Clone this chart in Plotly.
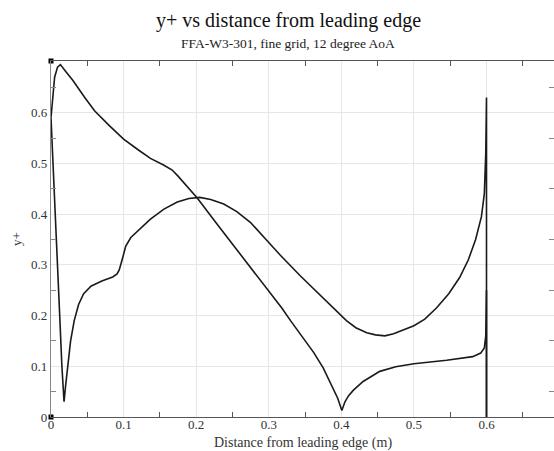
import plotly.graph_objects as go

# Curve 1: surface starting at leading edge, peaking near x=0.012
c1_x = [0.0, 0.002, 0.005, 0.009, 0.013, 0.02, 0.03, 0.046, 0.06, 0.08, 0.1, 0.12, 0.137,
        0.155, 0.167, 0.175, 0.185, 0.2015, 0.23, 0.26, 0.29, 0.318, 0.33, 0.348, 0.362,
        0.375, 0.385, 0.395, 0.4007, 0.405, 0.41, 0.4167, 0.43, 0.453, 0.475, 0.5, 0.545,
        0.581, 0.592, 0.597, 0.599, 0.6, 0.6, 0.6]
c1_y = [0.59, 0.63, 0.67, 0.69, 0.695, 0.682, 0.664, 0.631, 0.604, 0.575, 0.548, 0.527, 0.51,
        0.497, 0.487, 0.475, 0.458, 0.432, 0.378, 0.322, 0.268, 0.215, 0.19, 0.155, 0.127,
        0.097, 0.067, 0.037, 0.013, 0.03, 0.042, 0.053, 0.07, 0.09, 0.099, 0.105, 0.112,
        0.119, 0.126, 0.136, 0.16, 0.25, 0.12, 0.0]

# Curve 2: surface through the stagnation dip near x=0.018
c2_x = [0.0, 0.003, 0.006, 0.009, 0.012, 0.015, 0.018, 0.02, 0.023, 0.027, 0.032, 0.038,
        0.045, 0.055, 0.07, 0.085, 0.091, 0.094, 0.098, 0.103, 0.11, 0.119, 0.137, 0.1556,
        0.174, 0.19, 0.205, 0.22, 0.238, 0.256, 0.2746, 0.295, 0.316, 0.343, 0.371, 0.39,
        0.407, 0.42, 0.435, 0.447, 0.46, 0.472, 0.485, 0.5, 0.515, 0.531, 0.548, 0.563,
        0.575, 0.585, 0.593, 0.597, 0.599, 0.6, 0.6]
c2_y = [0.59, 0.5, 0.4, 0.3, 0.2, 0.1, 0.03, 0.06, 0.1, 0.15, 0.19, 0.222,
        0.243, 0.258, 0.268, 0.276, 0.282, 0.29, 0.31, 0.337, 0.354, 0.366, 0.39, 0.41,
        0.424, 0.431, 0.433, 0.429, 0.42, 0.405, 0.384, 0.352, 0.319, 0.279, 0.24, 0.214,
        0.19, 0.176, 0.166, 0.162, 0.16, 0.164, 0.171, 0.18, 0.193, 0.215, 0.243, 0.275,
        0.31, 0.35, 0.395, 0.44, 0.52, 0.63, 0.0]

# small corner markers
mk_x = [0.0, 0.0]
mk_y = [0.0, 0.702]

y_tickvals = [0, 0.1, 0.2, 0.3, 0.4, 0.5, 0.6]
x_tickvals = [0, 0.1, 0.2, 0.3, 0.4, 0.5, 0.6]

title_text = "y+ vs distance from leading edge"
subtitle_text = "FFA-W3-301, fine grid, 12 degree AoA"
x_title = "Distance from leading edge (m)"
y_title = "y+"

FONT = "Liberation Serif, Times New Roman, serif"
L, R, T, B = 51, 0, 61, 34
W, H = 554, 451
pw = W - L - R
ph = H - T - B


def px2paper(px_x, px_y):
    return (px_x - L) / pw, 1 + (T - px_y) / ph


fig = go.Figure()
fig.add_trace(go.Scatter(x=c1_x, y=c1_y, mode="lines",
                         line=dict(color="#1a1a1a", width=1.6), showlegend=False))
fig.add_trace(go.Scatter(x=c2_x, y=c2_y, mode="lines",
                         line=dict(color="#1a1a1a", width=1.6), showlegend=False))
fig.add_trace(go.Scatter(x=mk_x, y=mk_y, mode="markers",
                         marker=dict(symbol="square", size=5, color="black"),
                         showlegend=False, cliponaxis=False))

tx, ty = px2paper(288, 21)
sx, sy = px2paper(288, 43)
xx, xy = px2paper(303, 443)
fig.update_layout(
    width=W, height=H,
    margin=dict(l=L, r=R, t=T, b=B),
    paper_bgcolor="white", plot_bgcolor="white",
    font=dict(family=FONT, color="#333333", size=13),
    annotations=[
        dict(text=title_text, x=tx, y=ty, xref="paper", yref="paper", showarrow=False,
             xanchor="center", yanchor="middle",
             font=dict(family=FONT, size=20, color="#111111")),
        dict(text=subtitle_text, x=sx, y=sy, xref="paper", yref="paper", showarrow=False,
             xanchor="center", yanchor="middle",
             font=dict(family=FONT, size=13.5, color="#222222")),
        dict(text=x_title, x=xx, y=xy, xref="paper", yref="paper", showarrow=False,
             xanchor="center", yanchor="middle",
             font=dict(family=FONT, size=14, color="#333333")),
    ],
)

fig.update_xaxes(
    range=[0, 0.693], tickmode="array", tickvals=x_tickvals,
    showgrid=True, gridcolor="#e6e6e6", gridwidth=1,
    zeroline=False, showline=True, linecolor="#555555", linewidth=1.2,
    mirror="ticks", ticks="", ticklabelstandoff=-5,
    minor=dict(ticks="inside", ticklen=5, tickcolor="#555555", dtick=0.1, tick0=0.05,
               showgrid=False),
    tickfont=dict(family=FONT, size=13, color="#333333"),
)
fig.update_yaxes(
    range=[0, 0.702], tickmode="array", tickvals=y_tickvals,
    showgrid=True, gridcolor="#e6e6e6", gridwidth=1,
    zeroline=False, showline=True, linecolor="#888888", linewidth=1.2,
    mirror="ticks", ticks="",
    minor=dict(ticks="inside", ticklen=5, tickcolor="#888888", dtick=0.1, tick0=0.05,
               showgrid=False),
    tickfont=dict(family=FONT, size=13, color="#333333"),
    title=dict(text=y_title, font=dict(family=FONT, size=13, color="#333333"), standoff=6),
)

fig.write_html("out.html")
